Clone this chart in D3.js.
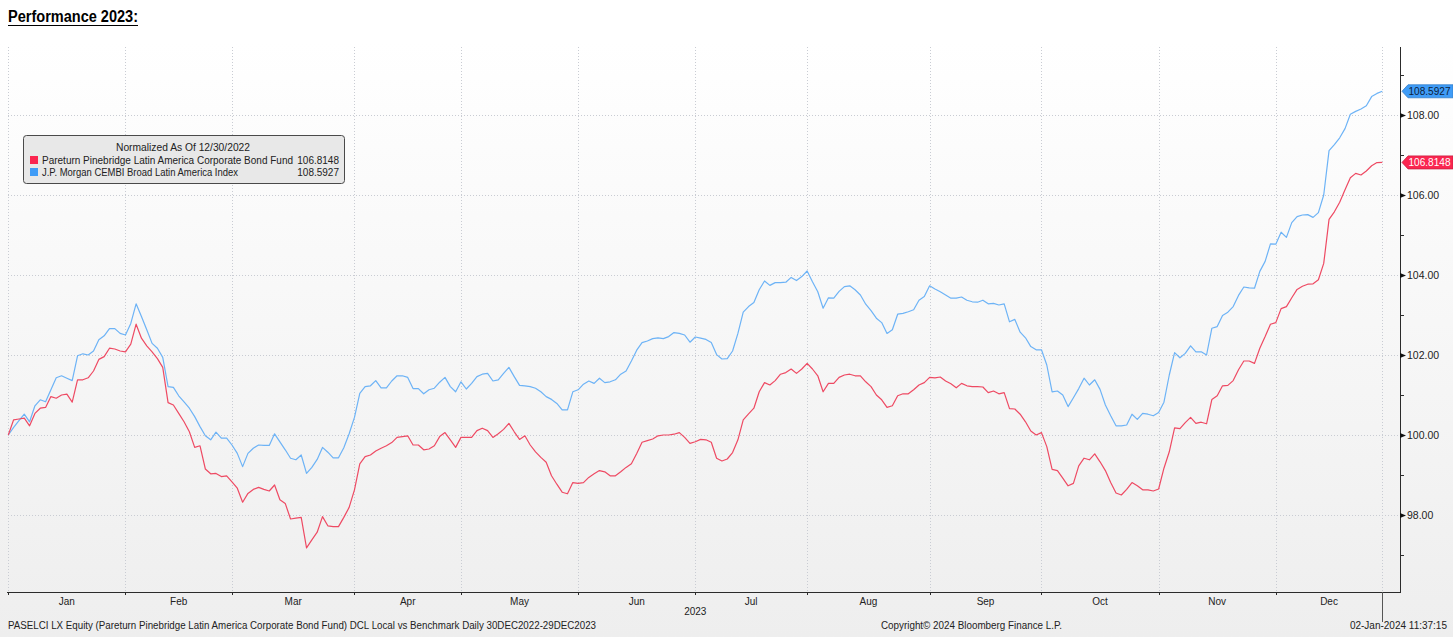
<!DOCTYPE html>
<html>
<head>
<meta charset="utf-8">
<script src="https://cdn.jsdelivr.net/npm/d3@7"></script>
<style>
  html, body { margin: 0; padding: 0; background: #ffffff; }
  svg { display: block; }
  text { font-family: "Liberation Sans", Arial, sans-serif; }
</style>
</head>
<body>
<svg id="chart" width="1453" height="637"></svg>
<script>
// ---------------- DATA ----------------
const titleText = "Performance 2023:";
const legendTitle = "Normalized As Of 12/30/2022";
const seriesNames = [
  "Pareturn Pinebridge Latin America Corporate Bond Fund",
  "J.P. Morgan CEMBI Broad Latin America Index"
];
const lastValues = ["106.8148", "108.5927"];
const monthLabels = ["Jan","Feb","Mar","Apr","May","Jun","Jul","Aug","Sep","Oct","Nov","Dec"];
const yearLabel = "2023";
const yTickValues = [98, 100, 102, 104, 106, 108];
const yMinorTicks = [97, 99, 101, 103, 105, 107, 109];
const startDate = "2022-12-30";
const endDate = "2023-12-29";
const holidays = ["2023-01-02", "2023-05-29"];
const footerLeft = "PASELCI LX Equity (Pareturn Pinebridge Latin America Corporate Bond Fund) DCL Local vs Benchmark  Daily 30DEC2022-29DEC2023";
const footerMid = "Copyright\u00A9 2024 Bloomberg Finance L.P.";
const footerRight = "02-Jan-2024 11:37:15";

// Fund (red), one value per trading day
const fundValues = [
100.00,100.38,100.40,100.42,100.23,100.54,100.67,100.69,100.96,100.92,
101.00,101.02,100.82,101.38,101.38,101.43,101.60,101.89,101.96,102.17,
102.15,102.10,102.08,102.27,102.77,102.42,102.23,102.08,101.91,101.69,
100.81,100.75,100.54,100.33,100.08,99.69,99.73,99.15,99.03,99.04,
98.96,98.98,98.83,98.67,98.32,98.54,98.64,98.69,98.64,98.60,
98.75,98.38,98.29,97.90,97.92,97.94,97.18,97.38,97.57,97.96,
97.73,97.71,97.71,97.94,98.19,98.63,99.28,99.46,99.50,99.60,
99.67,99.73,99.81,99.94,99.96,99.98,99.75,99.75,99.63,99.65,
99.73,99.96,100.06,99.88,99.69,99.94,99.94,99.94,100.11,100.17,
100.11,99.94,100.03,100.14,100.29,100.08,99.89,99.98,99.75,99.58,
99.44,99.32,98.98,98.77,98.57,98.53,98.81,98.79,98.81,98.94,
99.03,99.11,99.08,98.98,98.98,99.08,99.19,99.28,99.54,99.82,
99.86,99.90,99.98,100.00,100.00,100.02,100.06,99.94,99.79,99.83,
99.89,99.88,99.82,99.42,99.35,99.40,99.56,99.88,100.38,100.53,
100.67,101.08,101.31,101.25,101.36,101.52,101.56,101.65,101.54,101.65,
101.79,101.65,101.48,101.08,101.29,101.29,101.44,101.50,101.52,101.48,
101.48,101.33,101.21,101.00,100.88,100.69,100.73,100.98,101.03,101.03,
101.13,101.25,101.31,101.44,101.43,101.45,101.35,101.28,101.18,101.29,
101.23,101.21,101.21,101.20,101.06,101.10,101.03,101.06,100.66,100.65,
100.52,100.33,100.10,100.00,100.06,99.71,99.14,99.11,98.92,98.73,
98.79,99.23,99.42,99.38,99.53,99.33,99.11,98.81,98.55,98.50,
98.64,98.81,98.73,98.63,98.63,98.60,98.65,99.17,99.58,100.18,
100.16,100.31,100.44,100.29,100.32,100.28,100.89,100.98,101.23,101.24,
101.36,101.63,101.85,101.85,101.79,102.17,102.46,102.77,102.81,103.16,
103.21,103.43,103.64,103.72,103.77,103.78,103.88,104.29,105.39,105.58,
105.82,106.13,106.43,106.54,106.50,106.60,106.73,106.81,106.8148
];

// Benchmark (blue), one value per trading day
const indexValues = [
100.00,100.19,100.36,100.52,100.33,100.73,100.88,100.83,101.13,101.43,
101.48,101.42,101.36,101.98,102.03,102.00,102.10,102.38,102.48,102.66,
102.66,102.54,102.50,102.79,103.28,102.96,102.63,102.29,102.17,101.94,
101.21,101.19,100.98,100.83,100.67,100.46,100.21,99.98,99.88,100.07,
99.92,99.92,99.75,99.54,99.21,99.54,99.67,99.75,99.74,99.74,
100.03,99.83,99.63,99.42,99.38,99.50,99.04,99.19,99.39,99.69,
99.57,99.43,99.43,99.68,100.03,100.44,101.04,101.21,101.23,101.36,
101.18,101.18,101.35,101.48,101.48,101.44,101.16,101.16,101.03,101.13,
101.17,101.32,101.44,101.21,101.08,101.33,101.15,101.29,101.46,101.52,
101.54,101.35,101.38,101.54,101.69,101.46,101.24,101.23,101.21,101.17,
101.08,100.96,100.89,100.79,100.63,100.63,101.08,101.13,101.27,101.35,
101.29,101.42,101.31,101.33,101.38,101.52,101.60,101.85,102.12,102.31,
102.35,102.41,102.43,102.41,102.46,102.56,102.54,102.50,102.32,102.45,
102.42,102.39,102.31,102.01,101.90,101.91,102.10,102.54,103.07,103.21,
103.31,103.63,103.85,103.74,103.81,103.81,103.82,103.94,103.86,103.96,
104.10,103.83,103.58,103.17,103.43,103.42,103.59,103.71,103.73,103.63,
103.50,103.27,103.11,102.92,102.81,102.54,102.63,103.02,103.04,103.08,
103.13,103.37,103.46,103.73,103.65,103.58,103.50,103.42,103.42,103.45,
103.37,103.33,103.32,103.37,103.28,103.29,103.25,103.28,102.83,102.89,
102.57,102.43,102.21,102.13,102.13,101.75,101.08,101.10,101.00,100.71,
100.93,101.16,101.42,101.25,101.38,101.14,100.75,100.48,100.23,100.23,
100.25,100.52,100.39,100.54,100.52,100.48,100.56,100.82,101.50,102.06,
101.93,102.04,102.23,102.08,102.08,102.00,102.67,102.71,102.99,103.07,
103.21,103.49,103.70,103.68,103.67,104.09,104.34,104.78,104.77,105.07,
104.94,105.31,105.46,105.50,105.51,105.44,105.56,106.00,107.11,107.26,
107.43,107.66,108.02,108.09,108.15,108.23,108.46,108.54,108.5927
];

const fundColor = "#ee4a63";
const indexColor = "#6db3f6";
const fundBox = "#fb2650";
const indexBox = "#3f9cf7";

// ---------------- TRADING DAYS ----------------
const fmt = d3.timeFormat("%Y-%m-%d");
const parse = d3.timeParse("%Y-%m-%d");
const tradingDays = d3.timeDay.range(parse(startDate), d3.timeDay.offset(parse(endDate), 1))
  .filter(d => d.getDay() !== 0 && d.getDay() !== 6 && !holidays.includes(fmt(d)));
const nDays = tradingDays.length; // 259

// month boundaries: the start day opens January; then the first trading day of Feb..Dec
const monthStarts = [];
tradingDays.forEach((d, i) => {
  if (i > 0 && d.getMonth() !== tradingDays[i - 1].getMonth() && d.getMonth() !== 0) monthStarts.push(i);
});
const boundaries = [0, ...monthStarts, nDays - 1];

// ---------------- LAYOUT ----------------
const svg = d3.select("#chart");
const W = 1453, H = 637;
const plot = { left: 8, right: 1400, top: 47, bottom: 592 };

const x = d3.scaleLinear().domain([0, nDays - 1]).range([8.3, 1382.3]);
const y = d3.scaleLinear().domain([96.075, 109.7]).range([plot.bottom, plot.top]);

// background gradient
const defs = svg.append("defs");
const grad = defs.append("linearGradient").attr("id", "bg").attr("x1", 0).attr("y1", 0).attr("x2", 0).attr("y2", 1);
grad.append("stop").attr("offset", "0%").attr("stop-color", "#ffffff");
grad.append("stop").attr("offset", "100%").attr("stop-color", "#eeeeee");

svg.append("rect").attr("x", 0).attr("y", 0).attr("width", W).attr("height", H).attr("fill", "#ffffff");
svg.append("rect").attr("x", 0).attr("y", 42).attr("width", W).attr("height", H - 42).attr("fill", "url(#bg)");

// title
svg.append("text")
  .attr("x", 8).attr("y", 22)
  .attr("font-family", "Lato, 'Open Sans', sans-serif")
  .attr("font-weight", "bold").attr("font-size", 16)
  .attr("fill", "#000")
  .attr("textLength", 130).attr("lengthAdjust", "spacingAndGlyphs")
  .text(titleText);
svg.append("line").attr("x1", 8).attr("x2", 138).attr("y1", 25.5).attr("y2", 25.5)
  .attr("stroke", "#000").attr("stroke-width", 1.2);

// gridlines
const grid = svg.append("g").attr("stroke", "#c9ccd3").attr("stroke-width", 1).attr("stroke-dasharray", "1,2");
yTickValues.forEach(v => {
  grid.append("line").attr("x1", plot.left).attr("x2", plot.right)
    .attr("y1", Math.round(y(v)) + 0.5).attr("y2", Math.round(y(v)) + 0.5);
});
boundaries.forEach(i => {
  grid.append("line").attr("x1", Math.round(x(i)) + 0.5).attr("x2", Math.round(x(i)) + 0.5)
    .attr("y1", plot.top).attr("y2", plot.bottom);
});

// lines
const line = d3.line().x((d, i) => x(i)).y(d => y(d));
svg.append("path").datum(indexValues).attr("d", line)
  .attr("fill", "none").attr("stroke", indexColor).attr("stroke-width", 1.2).attr("stroke-linejoin", "round");
svg.append("path").datum(fundValues).attr("d", line)
  .attr("fill", "none").attr("stroke", fundColor).attr("stroke-width", 1.2).attr("stroke-linejoin", "round");

// right axis
const axisG = svg.append("g");
axisG.append("line").attr("x1", plot.right + 0.5).attr("x2", plot.right + 0.5)
  .attr("y1", plot.top).attr("y2", plot.bottom + 1).attr("stroke", "#2b2b2b").attr("stroke-width", 1);
yMinorTicks.forEach(v => {
  axisG.append("line").attr("x1", plot.right).attr("x2", plot.right + 4)
    .attr("y1", Math.round(y(v)) + 0.5).attr("y2", Math.round(y(v)) + 0.5)
    .attr("stroke", "#2b2b2b");
});
yTickValues.forEach(v => {
  const yy = Math.round(y(v)) + 0.5;
  axisG.append("path")
    .attr("d", `M${plot.right},${yy - 2.5} L${plot.right + 6},${yy} L${plot.right},${yy + 2.5} Z`)
    .attr("fill", "#111");
  axisG.append("text").attr("x", plot.right + 7).attr("y", yy + 3.5)
    .attr("font-size", 10.5).attr("fill", "#222").text(v.toFixed(2));
});

// bottom axis
axisG.append("line").attr("x1", plot.left - 1).attr("x2", plot.right + 1)
  .attr("y1", plot.bottom + 0.5).attr("y2", plot.bottom + 0.5).attr("stroke", "#2b2b2b").attr("stroke-width", 1.2);
boundaries.forEach((i, k) => {
  const xx = Math.round(x(i)) + 0.5;
  const long = k === boundaries.length - 1;
  axisG.append("line").attr("x1", xx).attr("x2", xx)
    .attr("y1", plot.bottom).attr("y2", plot.bottom + (long ? 30 : 3))
    .attr("stroke", long ? "#555" : "#2b2b2b").attr("stroke-width", 1);
});
monthLabels.forEach((m, k) => {
  const xm = (x(boundaries[k]) + x(boundaries[k + 1])) / 2;
  axisG.append("text").attr("x", xm).attr("y", 605).attr("text-anchor", "middle")
    .attr("font-size", 10).attr("fill", "#222").text(m);
});
axisG.append("text").attr("x", (x(0) + x(nDays - 1)) / 2).attr("y", 615).attr("text-anchor", "middle")
  .attr("font-size", 10).attr("fill", "#222").text(yearLabel);

// right value tags
function tag(val, label, fill, textColor) {
  const yy = y(val);
  const g = svg.append("g");
  g.append("path")
    .attr("d", `M${plot.right + 2},${yy} L${plot.right + 8},${yy - 6.5} L${W},${yy - 6.5} L${W},${yy + 6.5} L${plot.right + 8},${yy + 6.5} Z`)
    .attr("fill", fill).attr("stroke", d3.color(fill).darker(0.6)).attr("stroke-width", 0.8);
  g.append("text").attr("x", plot.right + 8.5).attr("y", yy + 3.6)
    .attr("font-size", 10.5).attr("fill", textColor)
    .attr("textLength", 42).attr("lengthAdjust", "spacingAndGlyphs").text(label);
}
tag(indexValues[nDays - 1], lastValues[1], indexBox, "#0e1e3a");
tag(fundValues[nDays - 1], lastValues[0], fundBox, "#ffffff");

// legend
const lg = svg.append("g");
lg.append("rect").attr("x", 23.5).attr("y", 135.5).attr("width", 321).attr("height", 48).attr("rx", 3)
  .attr("fill", "#e8e8e8").attr("stroke", "#4a4a4a").attr("stroke-width", 1);
lg.append("text").attr("x", 183).attr("y", 151).attr("text-anchor", "middle")
  .attr("font-size", 10).attr("fill", "#222")
  .attr("textLength", 134).attr("lengthAdjust", "spacingAndGlyphs").text(legendTitle);
const rows = [
  { name: seriesNames[0], val: lastValues[0], color: fundBox, yy: 164 },
  { name: seriesNames[1], val: lastValues[1], color: indexBox, yy: 176 }
];
const nameLengths = [251, 196];
rows.forEach((r, k) => {
  lg.append("rect").attr("x", 30).attr("y", r.yy - 8).attr("width", 8).attr("height", 8).attr("fill", r.color);
  lg.append("text").attr("x", 42).attr("y", r.yy).attr("font-size", 10).attr("fill", "#222")
    .attr("textLength", nameLengths[k]).attr("lengthAdjust", "spacingAndGlyphs").text(r.name);
  lg.append("text").attr("x", 339).attr("y", r.yy).attr("text-anchor", "end")
    .attr("font-size", 10).attr("fill", "#222").text(r.val);
});

// footer
svg.append("text").attr("x", 8).attr("y", 629).attr("font-size", 10).attr("fill", "#222")
  .attr("textLength", 588).attr("lengthAdjust", "spacingAndGlyphs").text(footerLeft);
svg.append("text").attr("x", 881).attr("y", 629).attr("font-size", 10).attr("fill", "#222")
  .attr("textLength", 181).attr("lengthAdjust", "spacingAndGlyphs").text(footerMid);
svg.append("text").attr("x", 1447).attr("y", 629).attr("text-anchor", "end").attr("font-size", 10).attr("fill", "#222")
  .text(footerRight);
</script>
</body>
</html>
